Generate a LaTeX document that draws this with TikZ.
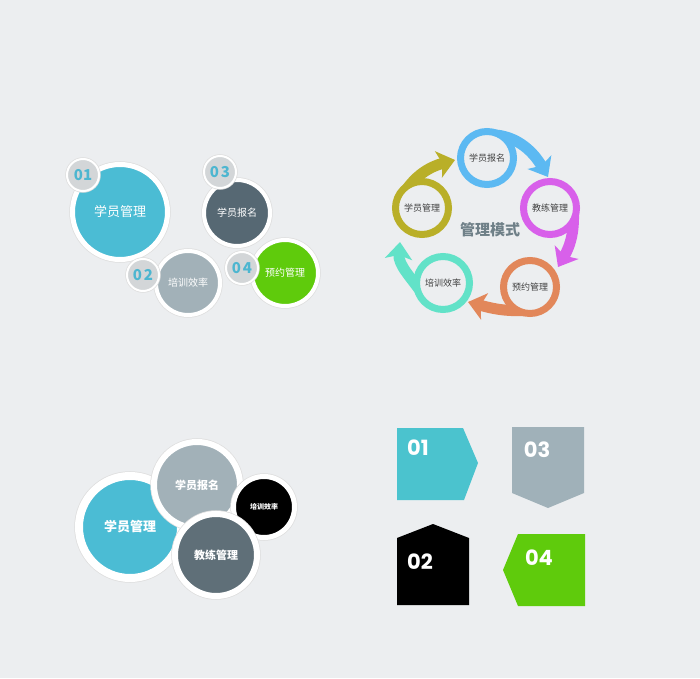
\documentclass[tikz,border=0pt]{standalone}
\usepackage{fontspec}
\setmainfont{Noto Sans CJK SC}
\newfontfamily\popfont{Poppins}
\usetikzlibrary{arrows.meta}
\definecolor{bg}{HTML}{ECEEF0}
\definecolor{cblue}{HTML}{4BBCD4}
\definecolor{cdark}{HTML}{566873}
\definecolor{cgray}{HTML}{A2B1B8}
\definecolor{cgreen}{HTML}{5FCB0C}
\definecolor{clab}{HTML}{D3D6D8}
\definecolor{cnum}{HTML}{4DB6D0}
\definecolor{rblue}{HTML}{5CB9F2}
\definecolor{rmag}{HTML}{D860EA}
\definecolor{rora}{HTML}{E2875A}
\definecolor{rteal}{HTML}{62E2C8}
\definecolor{rolive}{HTML}{B9AF28}
\definecolor{ctext}{HTML}{6F8088}
\definecolor{bdark}{HTML}{5F6F78}
\definecolor{pteal}{HTML}{4BC3CE}
\definecolor{pgray}{HTML}{A0B1B9}
\tikzset{
  bub/.style={circle, inner sep=0pt, draw=white, text=white},
  shad/.style={preaction={draw=black!13, line width=#1}},
  lab/.style={circle, inner sep=0pt, draw=white, line width=2pt, shad=3.5pt, fill=clab, minimum size=32pt, text=cnum, font=\fontsize{15}{15}\selectfont\bfseries},
  ring/.style={circle, inner sep=0pt, line width=7pt, fill=bg, minimum size=53pt, text=black!75, font=\fontsize{9}{9}\selectfont},
  cyc/.style={line width=11pt, -{Stealth[width=27pt,length=17pt,inset=4pt]}},
  pnum/.style={text=white, font=\popfont\fontsize{21}{21}\selectfont\bfseries, inner sep=0pt},
}
\begin{document}
\begin{tikzpicture}[x=1pt,y=1pt]
\fill[bg] (0,0) rectangle (700,678);
\useasboundingbox (0,0) rectangle (700,678);
% ---------- top-left ----------
\node[bub, fill=cblue, line width=5pt, shad=6.5pt, minimum size=95pt, font=\fontsize{13}{13}\selectfont] (c1) at (120,466) {学员管理};
\node[bub, fill=cdark, line width=4pt, shad=5.5pt, minimum size=66pt, font=\fontsize{10}{10}\selectfont] (c3) at (237,465) {学员报名};
\node[bub, fill=cgray, line width=4pt, shad=5.5pt, minimum size=64pt, font=\fontsize{10}{10}\selectfont] (c2) at (188,395) {培训效率};
\node[bub, fill=cgreen, line width=4pt, shad=5.5pt, minimum size=66pt, font=\fontsize{10}{10}\selectfont] (c4) at (285,405) {预约管理};
\node[lab] (l1) at (83,503) {01};
\node[lab] (l3) at (220,506) {0\hspace{2pt}3};
\node[lab] (l2) at (143,403) {0\hspace{2pt}2};
\node[lab] (l4) at (242,410) {0\hspace{2pt}4};
% ---------- top-right cycle ----------
\coordinate (s1) at (485,543);   \coordinate (t1) at (548,501);
\coordinate (s2) at (573,472);   \coordinate (t2) at (558,411);
\coordinate (s3) at (532,368);   \coordinate (t3) at (468,376);
\coordinate (s4) at (424,382);   \coordinate (t4) at (400,436);
\coordinate (s5) at (402,481.5); \coordinate (t5) at (455,518);
\draw[cyc, rblue]  (s1) to[out=5,   in=120] (t1);
\draw[cyc, rmag]   (s2) to[out=-85, in=60]  (t2);
\draw[cyc, rora]   (s3) to[out=-175,in=-15] (t3);
\draw[cyc, rteal]  (s4) to[out=125, in=-95] (t4);
\draw[cyc, rolive] (s5) to[out=60,  in=195] (t5);
\node[ring, draw=rblue] (r1) at (487,520) {学员报名};
\node[ring, draw=rmag] (r2) at (550,470) {教练管理};
\node[ring, draw=rora] (r3) at (530,391) {预约管理};
\node[ring, draw=rteal] (r4) at (443,395) {培训效率};
\node[ring, draw=rolive] (r5) at (422,470) {学员管理};
\node[text=ctext, font=\fontsize{15}{15}\selectfont\bfseries] (mid) at (490,448) {管理模式};
% ---------- bottom-left ----------
\node[bub, fill=cblue, line width=8pt, shad=9.5pt, minimum size=102pt, font=\fontsize{13}{13}\selectfont\bfseries] (b1) at (130,151) {学员管理};
\node[bub, fill=cgray, line width=6pt, shad=7.5pt, minimum size=86pt, font=\fontsize{11}{11}\selectfont\bfseries] (b2) at (197,193) {学员报名};
\node[bub, fill=black, line width=5pt, shad=6.5pt, minimum size=61pt, font=\fontsize{7}{7}\selectfont\bfseries] (b3) at (264,171) {培训效率};
\node[bub, fill=bdark, line width=6pt, shad=7.5pt, minimum size=82pt, font=\fontsize{11}{11}\selectfont\bfseries] (b4) at (216,123) {教练管理};
% ---------- bottom-right ----------
\fill[pteal] (397,250) -- (463,250) -- (478,215) -- (464,178) -- (397,178) -- cycle;
\fill[pgray] (512,251) -- (584,251) -- (584,185) -- (548,170) -- (512,185) -- cycle;
\fill[black] (397,140) -- (433,154) -- (469,140) -- (469,73) -- (397,73) -- cycle;
\fill[cgreen] (518,144) -- (585,144) -- (585,72) -- (518,72) -- (503,108) -- cycle;
\node[pnum] (n1) at (418,230) {01};
\node[pnum] (n3) at (537,228) {03};
\node[pnum] (n2) at (420,116) {02};
\node[pnum] (n4) at (539,120) {04};
\end{tikzpicture}
\end{document}
